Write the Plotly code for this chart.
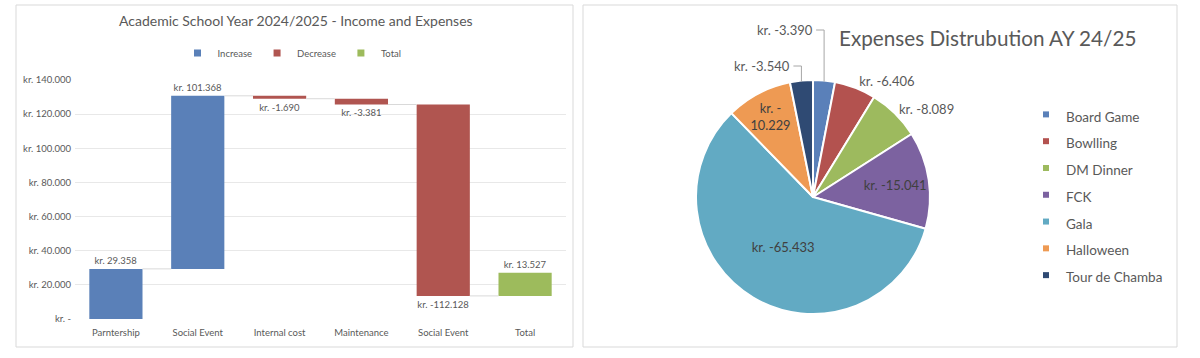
import math
import plotly.graph_objects as go

# ---------------- data ----------------
categories = ["Parntership", "Social Event", "Internal cost", "Maintenance", "Social Event", "Total"]
changes = [29358, 101368, -1690, -3381, -112128]
total_value = 13527
y_ticks = [0, 20000, 40000, 60000, 80000, 100000, 120000, 140000]

expense_labels = ["Board Game", "Bowlling", "DM Dinner", "FCK", "Gala", "Halloween", "Tour de Chamba"]
expense_values = [-3390, -6406, -8089, -15041, -65433, -10229, -3540]
expense_colors = ["#5A80B9", "#B3524F", "#9DBA5E", "#7C62A0", "#62AAC3", "#EE9A53", "#2F4A73"]
expense_textpos = ["none", "outside", "outside", "inside", "inside", "inside", "none"]

INC, DEC, TOT = "#5A80B8", "#B05550", "#9DBB5C"
GREY = "#595959"
FONT = "Lato"


def kr(v):
    if v == 0:
        return "kr. -"
    return "kr. " + f"{v:,}".replace(",", ".")


# running totals for the waterfall
starts, ends = [], []
run = 0
for c in changes:
    starts.append(run)
    run += c
    ends.append(run)

W, H = 1200, 358


def px(x):
    return x / W


def py(y):
    return 1 - y / H


fig = go.Figure()

xpos = list(range(len(categories)))
inc_idx = [i for i, c in enumerate(changes) if c > 0]
dec_idx = [i for i, c in enumerate(changes) if c < 0]

bar_common = dict(width=0.65, textposition="outside", constraintext="none", cliponaxis=False,
                  textfont=dict(family=FONT, size=9.5, color=GREY), xaxis="x", yaxis="y",
                  showlegend=False, hoverinfo="skip")

fig.add_trace(go.Bar(name="Increase", x=[xpos[i] for i in inc_idx], y=[changes[i] for i in inc_idx],
                     base=[starts[i] for i in inc_idx], text=[kr(changes[i]) for i in inc_idx],
                     marker=dict(color=INC, line=dict(width=0)), **bar_common))
fig.add_trace(go.Bar(name="Decrease", x=[xpos[i] for i in dec_idx], y=[changes[i] for i in dec_idx],
                     base=[starts[i] for i in dec_idx], text=[kr(changes[i]) for i in dec_idx],
                     marker=dict(color=DEC, line=dict(width=0)), **bar_common))
fig.add_trace(go.Bar(name="Total", x=[xpos[-1]], y=[total_value], base=[ends[-1]],
                     text=[kr(total_value)], marker=dict(color=TOT, line=dict(width=0)), **bar_common))

# legend swatches for the waterfall
for nm, col in [("Increase", INC), ("Decrease", DEC), ("Total", TOT)]:
    fig.add_trace(go.Scatter(x=[None], y=[None], mode="markers", name=nm,
                             marker=dict(symbol="square", size=7, color=col),
                             legend="legend", xaxis="x", yaxis="y", hoverinfo="skip"))

# connector lines between bars
cx, cy = [], []
for i in range(len(changes)):
    cx += [xpos[i] + 0.325, xpos[i + 1] - 0.325, None]
    cy += [ends[i], ends[i], None]
fig.add_trace(go.Scatter(x=cx, y=cy, mode="lines", line=dict(color="#D9D9D9", width=1),
                         showlegend=False, hoverinfo="skip", xaxis="x", yaxis="y"))

# pie
pie_text = []
for lab, v in zip(expense_labels, expense_values):
    t = kr(v)
    if lab == "Halloween":
        t = t.replace("kr. -", "kr. -<br>")
    pie_text.append(t)

PIE_X0, PIE_X1, PIE_Y0, PIE_Y1 = 696, 930, 80, 314   # pixel box of the pie domain
fig.add_trace(go.Pie(
    labels=expense_labels,
    values=[abs(v) for v in expense_values],
    text=pie_text, textinfo="text", textposition=expense_textpos,
    insidetextorientation="horizontal",
    sort=False, direction="clockwise", rotation=0,
    marker=dict(colors=expense_colors, line=dict(color="white", width=2)),
    insidetextfont=dict(family=FONT, size=13, color="#404040"),
    outsidetextfont=dict(family=FONT, size=13, color=GREY),
    domain=dict(x=[px(PIE_X0), px(PIE_X1)], y=[py(PIE_Y1), py(PIE_Y0)]),
    showlegend=False, hoverinfo="skip", automargin=False,
))

# legend entries for the pie (small square swatches)
for lab, col in zip(expense_labels, expense_colors):
    fig.add_trace(go.Scatter(
        x=[None], y=[None], mode="markers", name=f'<span style="font-size:13.5px">{lab}</span>',
        marker=dict(symbol="square", size=6, color=col), legend="legend2",
        xaxis="x", yaxis="y", hoverinfo="skip",
    ))

# call-out labels (with leader lines) for the two thin slices
callout_y = {"Board Game": 30, "Tour de Chamba": 66}
pcx, pcy = (PIE_X0 + PIE_X1) / 2, (PIE_Y0 + PIE_Y1) / 2
pr = min(PIE_X1 - PIE_X0, PIE_Y1 - PIE_Y0) / 2
tot = sum(abs(v) for v in expense_values)
shapes = [
    dict(type="rect", xref="paper", yref="paper", x0=px(16), x1=px(573), y0=py(347), y1=py(5),
         line=dict(color="#D9D9D9", width=1), fillcolor="rgba(0,0,0,0)", layer="below"),
    dict(type="rect", xref="paper", yref="paper", x0=px(583), x1=px(1177), y0=py(347), y1=py(5),
         line=dict(color="#D9D9D9", width=1), fillcolor="rgba(0,0,0,0)", layer="below"),
]
annotations = [
    dict(text="Academic School Year 2024/2025 - Income and Expenses", xref="paper", yref="paper",
         x=px(296), y=py(21), xanchor="center", yanchor="middle", showarrow=False,
         font=dict(family=FONT, size=14, color=GREY)),
    dict(text="Expenses Distrubution AY 24/25", xref="paper", yref="paper",
         x=px(837), y=py(38), xanchor="left", yanchor="middle", showarrow=False,
         font=dict(family=FONT, size=20.7, color=GREY)),
]
cum = 0
for lab, v, t in zip(expense_labels, expense_values, pie_text):
    a = abs(v)
    mid = (cum + a / 2) / tot
    cum += a
    if lab not in callout_y:
        continue
    ang = 2 * math.pi * mid
    ex, ey = pcx + pr * math.sin(ang), pcy - pr * math.cos(ang)
    ly = callout_y[lab]
    shapes.append(dict(type="path", xref="paper", yref="paper",
                       path=f"M {px(ex)},{py(ey + 1)} L {px(ex)},{py(ly)} L {px(ex - 8)},{py(ly)}",
                       line=dict(color="#A6A6A6", width=1)))
    annotations.append(dict(text=t, xref="paper", yref="paper", x=px(ex - 9), y=py(ly),
                            xanchor="right", yanchor="middle", showarrow=False,
                            font=dict(family=FONT, size=13, color=GREY)))

fig.update_layout(
    width=W, height=H,
    margin=dict(l=0, r=0, t=0, b=0, pad=0, autoexpand=False),
    paper_bgcolor="white", plot_bgcolor="white",
    barmode="overlay",
    font=dict(family=FONT, color=GREY),
    xaxis=dict(domain=[px(75), px(566)], range=[-0.5, 5.5], tickvals=xpos, ticktext=categories,
               showgrid=False, zeroline=False, showline=False, ticks="", automargin=False,
               ticklabelstandoff=6,
               tickfont=dict(family=FONT, size=9.5, color=GREY)),
    yaxis=dict(domain=[py(319), py(80)], range=[0, 140000], tickvals=y_ticks,
               ticktext=[kr(v) for v in y_ticks], showgrid=True, gridcolor="#E8E8E8", gridwidth=1,
               zeroline=False, showline=False, ticks="", ticklen=0, automargin=False,
               ticklabelstandoff=3,
               tickfont=dict(family=FONT, size=9.5, color=GREY)),
    legend=dict(orientation="h", x=px(292), xanchor="center", y=py(53), yanchor="middle",
                font=dict(family=FONT, size=9.5, color=GREY), bgcolor="rgba(0,0,0,0)",
                itemclick=False, traceorder="normal", itemsizing="trace"),
    legend2=dict(orientation="v", x=px(1026), xanchor="left", y=py(96), yanchor="top",
                 font=dict(family=FONT, size=18.3, color=GREY), bgcolor="rgba(0,0,0,0)",
                 itemclick=False, itemsizing="trace"),
    showlegend=True,
    shapes=shapes,
    annotations=annotations,
)

pin_js = (
    "document.documentElement.style.margin='0';document.documentElement.style.overflow='hidden';"
    "document.body.style.margin='0';document.body.style.padding='0';document.body.style.overflow='hidden';"
    "var d=document.querySelector('.plotly-graph-div');"
    "if(d){d.style.position='fixed';d.style.top='0px';d.style.left='0px';}"
)
fig.write_html("out.html", config={"displayModeBar": False}, post_script=pin_js)
